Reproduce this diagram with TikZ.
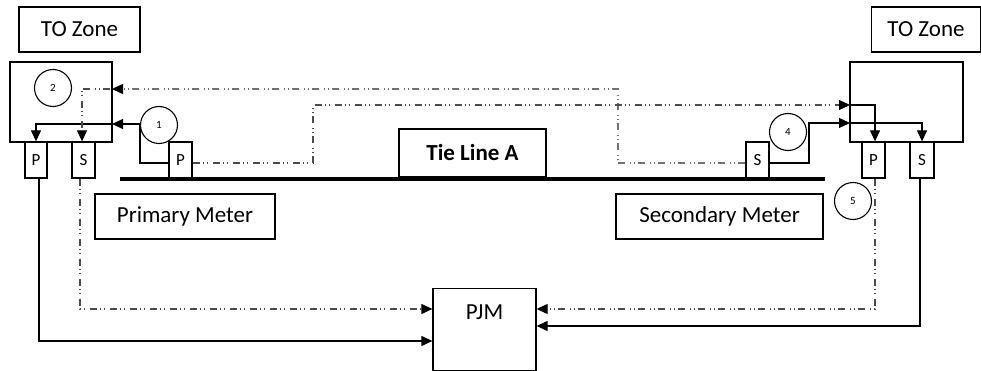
\documentclass[tikz,border=0pt]{standalone}
\usepackage{fontspec}
\setmainfont{Carlito}
\usetikzlibrary{arrows.meta,calc}
\begin{document}
\begin{tikzpicture}[x=1pt,y=-1pt,
  box/.style={draw,line width=1.3pt,inner sep=0pt,font=\fontsize{23}{27}\selectfont},
  mbox/.style={draw,line width=1.3pt,inner sep=0pt,minimum width=23pt,minimum height=36pt,font=\fontsize{17}{20}\selectfont},
  num/.style={draw,circle,line width=1.1pt,inner sep=0pt,minimum size=37pt,font=\fontsize{11}{13}\selectfont},
  sline/.style={line width=1.2pt},
  dline/.style={line width=1.2pt,black!70,dash pattern=on 7pt off 3pt on 1.2pt off 3pt on 1.2pt off 4.6pt},
  dtop/.style={line width=1.5pt,black!55,dash pattern=on 7pt off 3pt on 1.2pt off 3pt on 1.2pt off 4.6pt},
  tip/.style={-{Triangle[length=11pt,width=10pt,color=black]}}]
\useasboundingbox (0,0) rectangle (981,371);
% zones
\node[box,minimum width=121pt,minimum height=45pt] (tozL) at (79.5,29.5) {TO Zone};
\node[box,minimum width=109pt,minimum height=45pt] (tozR) at (926,29.5) {TO Zone};
\node[box,minimum width=102pt,minimum height=80pt] (zoneL) at (61,102) {};
\node[box,minimum width=113pt,minimum height=80pt] (zoneR) at (906.5,102) {};
% meters
\node[mbox,minimum width=22pt] (pL) at (36,160) {P};
\node[mbox] (sL) at (83.5,160) {S};
\node[mbox] (pM) at (180.5,160) {P};
\node[mbox] (sM) at (757.5,160) {S};
\node[mbox] (pR) at (873.5,160) {P};
\node[mbox,minimum width=24pt] (sR) at (922,160) {S};
% tie line
\coordinate (tlA) at (120,179.5);
\coordinate (tlB) at (825,179.5);
\draw[line width=4pt] (tlA) -- (tlB);
\node[box,font=\fontsize{23}{27}\selectfont\bfseries,minimum width=147pt,minimum height=48pt] (tie) at (472.5,153) {Tie Line A};
\node[box,minimum width=180pt,minimum height=45pt] (prim) at (185,216.5) {Primary Meter};
\node[box,minimum width=207pt,minimum height=45pt] (sec) at (719.5,216.5) {Secondary Meter};
% circles
\node[num] (c1) at (159,125) {1};
\node[num] (c2) at (53,88) {2};
\node[num] (c4) at (788,132) {4};
\node[num] (c5) at (853,201) {5};
% PJM
\node[box,anchor=north,minimum width=103pt,text height=31pt,text depth=51pt] (pjm) at (484.5,288) {PJM};
% coordinates
\coordinate (inL1) at (112,124);
\coordinate (inL2) at (112,89);
\coordinate (inR1) at (850,105);
\coordinate (inR2) at (850,123);
% connectors
\draw[sline,tip] ([yshift=-3pt]pM.west) -| (140,124) -- (inL1);
\draw[sline,tip] (inL1) -| (pL.north);
\draw[dtop,tip] ([yshift=-3pt]sM.west) -| (618,89) -- (inL2);
\draw[dline,tip] ([xshift=-2pt]inL2) -| ([xshift=-1.5pt]sL.north);
\draw[dline,tip] ([yshift=-3pt]pM.east) -| (313,105) -- (inR1);
\draw[sline,tip] (inR1) -| ([xshift=1.5pt]pR.north);
\draw[sline,tip] ([yshift=-3pt]sM.east) -| (809,123) -- (inR2);
\draw[sline,tip] (inR2) -| (sR.north);
\draw[dline,tip] ([xshift=-3.5pt]sL.south) |- (pjm.west |- 0,309);
\draw[sline,tip] ([xshift=3pt]pL.south) |- (pjm.west |- 0,341);
\draw[dline,tip] ([xshift=1.5pt]pR.south) |- (pjm.east |- 0,309);
\draw[sline,tip] ([xshift=-2pt]sR.south) |- (pjm.east |- 0,326);
\end{tikzpicture}
\end{document}
